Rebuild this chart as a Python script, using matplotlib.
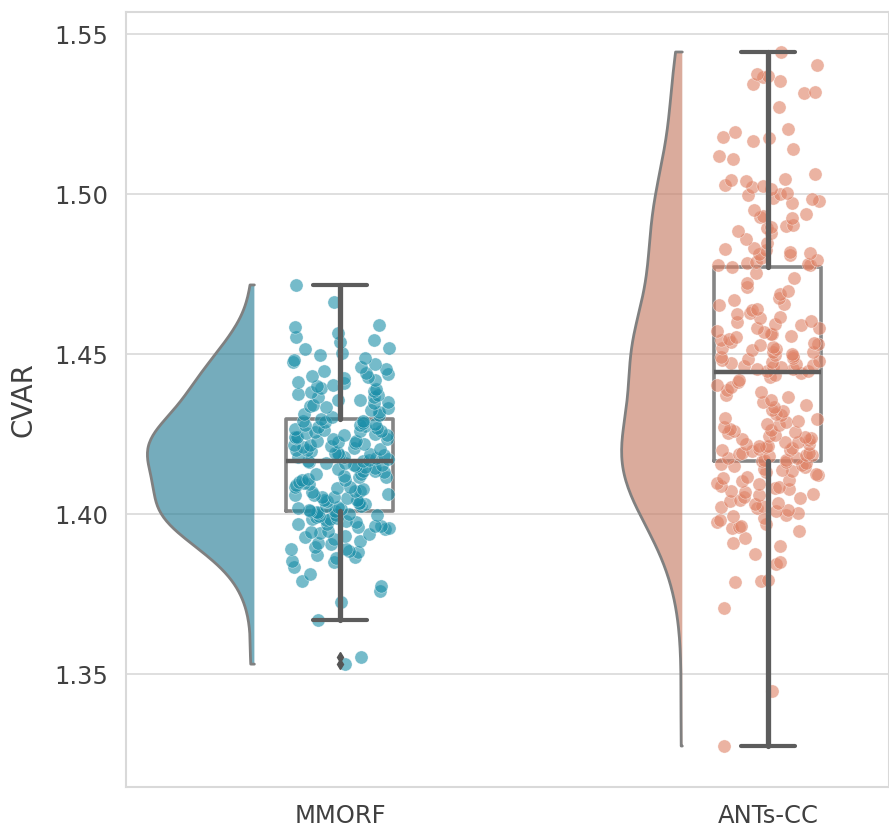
import numpy as np
import seaborn as sns
from matplotlib import pyplot as plt

# CVAR values, one list per method
groups = ['MMORF', 'ANTs-CC']

mmorf = [
    1.3531, 1.3553, 1.3669, 1.3725, 1.3759, 1.3775, 1.3791, 1.3814, 1.3836, 1.3849,
    1.3853, 1.3862, 1.3866, 1.3871, 1.3880, 1.3883, 1.3890, 1.3892, 1.3898, 1.3905,
    1.3910, 1.3917, 1.3921, 1.3928, 1.3930, 1.3937, 1.3940, 1.3945, 1.3947, 1.3953,
    1.3955, 1.3958, 1.3963, 1.3964, 1.3968, 1.3970, 1.3975, 1.3977, 1.3980, 1.3984,
    1.3985, 1.3989, 1.3992, 1.3993, 1.3997, 1.3998, 1.4001, 1.4004, 1.4005, 1.4008,
    1.4010, 1.4012, 1.4017, 1.4018, 1.4022, 1.4025, 1.4026, 1.4031, 1.4035, 1.4036,
    1.4040, 1.4043, 1.4044, 1.4049, 1.4052, 1.4054, 1.4059, 1.4061, 1.4063, 1.4068,
    1.4071, 1.4073, 1.4078, 1.4080, 1.4085, 1.4086, 1.4090, 1.4095, 1.4097, 1.4100,
    1.4105, 1.4106, 1.4110, 1.4115, 1.4117, 1.4120, 1.4125, 1.4126, 1.4130, 1.4135,
    1.4136, 1.4141, 1.4143, 1.4148, 1.4149, 1.4153, 1.4154, 1.4158, 1.4160, 1.4162,
    1.4165, 1.4166, 1.4170, 1.4172, 1.4175, 1.4178, 1.4179, 1.4183, 1.4185, 1.4188,
    1.4191, 1.4192, 1.4196, 1.4199, 1.4200, 1.4204, 1.4207, 1.4208, 1.4212, 1.4215,
    1.4216, 1.4220, 1.4222, 1.4225, 1.4228, 1.4229, 1.4233, 1.4235, 1.4238, 1.4241,
    1.4242, 1.4246, 1.4248, 1.4251, 1.4253, 1.4256, 1.4259, 1.4260, 1.4264, 1.4266,
    1.4269, 1.4271, 1.4274, 1.4277, 1.4278, 1.4282, 1.4284, 1.4287, 1.4290, 1.4292,
    1.4298, 1.4303, 1.4309, 1.4313, 1.4318, 1.4325, 1.4330, 1.4333, 1.4339, 1.4342,
    1.4348, 1.4351, 1.4356, 1.4358, 1.4365, 1.4367, 1.4373, 1.4376, 1.4382, 1.4385,
    1.4391, 1.4394, 1.4399, 1.4402, 1.4410, 1.4414, 1.4419, 1.4424, 1.4427, 1.4433,
    1.4437, 1.4440, 1.4447, 1.4452, 1.4459, 1.4468, 1.4475, 1.4482, 1.4487, 1.4498,
    1.4503, 1.4516, 1.4519, 1.4538, 1.4544, 1.4553, 1.4566, 1.4584, 1.4591, 1.4663,
    1.4716,
]

ants = [
    1.3275, 1.3447, 1.3706, 1.3787, 1.3790, 1.3794, 1.3844, 1.3850, 1.3875, 1.3900,
    1.3909, 1.3925, 1.3947, 1.3956, 1.3959, 1.3963, 1.3968, 1.3974, 1.3982, 1.3987,
    1.3994, 1.3997, 1.4004, 1.4010, 1.4012, 1.4019, 1.4023, 1.4026, 1.4032, 1.4035,
    1.4042, 1.4044, 1.4050, 1.4053, 1.4059, 1.4062, 1.4068, 1.4071, 1.4077, 1.4080,
    1.4086, 1.4088, 1.4095, 1.4097, 1.4104, 1.4106, 1.4113, 1.4115, 1.4122, 1.4124,
    1.4130, 1.4133, 1.4139, 1.4141, 1.4147, 1.4149, 1.4154, 1.4155, 1.4159, 1.4162,
    1.4165, 1.4169, 1.4170, 1.4175, 1.4176, 1.4180, 1.4183, 1.4184, 1.4188, 1.4191,
    1.4192, 1.4196, 1.4199, 1.4200, 1.4204, 1.4207, 1.4208, 1.4213, 1.4214, 1.4219,
    1.4220, 1.4225, 1.4226, 1.4232, 1.4233, 1.4238, 1.4240, 1.4245, 1.4247, 1.4253,
    1.4255, 1.4261, 1.4263, 1.4267, 1.4272, 1.4278, 1.4281, 1.4288, 1.4291, 1.4298,
    1.4301, 1.4309, 1.4313, 1.4321, 1.4326, 1.4335, 1.4340, 1.4349, 1.4355, 1.4365,
    1.4371, 1.4381, 1.4387, 1.4397, 1.4403, 1.4413, 1.4419, 1.4429, 1.4434, 1.4441,
    1.4447, 1.4448, 1.4453, 1.4454, 1.4459, 1.4460, 1.4464, 1.4467, 1.4470, 1.4473,
    1.4474, 1.4479, 1.4480, 1.4485, 1.4487, 1.4492, 1.4493, 1.4498, 1.4500, 1.4506,
    1.4507, 1.4513, 1.4515, 1.4520, 1.4522, 1.4528, 1.4530, 1.4535, 1.4537, 1.4543,
    1.4546, 1.4552, 1.4555, 1.4562, 1.4564, 1.4570, 1.4573, 1.4580, 1.4583, 1.4590,
    1.4593, 1.4600, 1.4604, 1.4612, 1.4616, 1.4624, 1.4628, 1.4637, 1.4642, 1.4652,
    1.4658, 1.4669, 1.4676, 1.4687, 1.4696, 1.4710, 1.4721, 1.4739, 1.4752, 1.4772,
    1.4777, 1.4779, 1.4781, 1.4784, 1.4788, 1.4794, 1.4800, 1.4809, 1.4812, 1.4816,
    1.4819, 1.4825, 1.4828, 1.4831, 1.4847, 1.4859, 1.4878, 1.4884, 1.4894, 1.4897,
    1.4900, 1.4903, 1.4925, 1.4928, 1.4931, 1.4938, 1.4950, 1.4972, 1.4978, 1.4984,
    1.4988, 1.4997, 1.5000, 1.5003, 1.5016, 1.5022, 1.5025, 1.5028, 1.5041, 1.5044,
    1.5047, 1.5063, 1.5109, 1.5119, 1.5141, 1.5166, 1.5175, 1.5178, 1.5194, 1.5203,
    1.5272, 1.5316, 1.5319, 1.5344, 1.5353, 1.5366, 1.5369, 1.5375, 1.5403, 1.5444,
]

y_ticks = [1.35, 1.40, 1.45, 1.50, 1.55]

point_colors = ['#1a8ea8', '#df8165']
violin_colors = ['#2c8098', '#c77e67']


def kde(values, grid):
    # gaussian kde with scott's rule, like seaborn's violins
    values = np.asarray(values)
    bw = values.std(ddof=1) * len(values) ** (-1 / 5)
    z = (grid[:, None] - values[None, :]) / bw
    return np.exp(-0.5 * z ** 2).sum(axis=1) / (len(values) * bw * np.sqrt(2 * np.pi))


sns.set_theme(style='whitegrid')
plt.rcParams['font.family'] = ['DejaVu Sans']

fig = plt.figure(figsize=(8.89, 8.30), dpi=100)
ax = fig.add_axes([126 / 889, 43 / 830, 763 / 889, 775 / 830])

data = [mmorf, ants]

# half violins, scaled by area so the widest one is 0.25 wide
grids = [np.linspace(min(d), max(d), 200) for d in data]
dens = [kde(d, g) for d, g in zip(data, grids)]
peak = max(d.max() for d in dens)
for i, (g, d) in enumerate(zip(grids, dens)):
    edge = i - 0.2
    ax.fill_betweenx(g, edge - d / peak * 0.25, edge, facecolor=violin_colors[i], alpha=0.65,
                     edgecolor='none', zorder=1)
    ax.plot(np.r_[edge, edge - d / peak * 0.25, edge], np.r_[g[0], g, g[-1]],
            color='#808080', lw=2, zorder=1.2)

# jittered points
np.random.seed(3)
for i, d in enumerate(data):
    sns.stripplot(x=np.full(len(d), i), y=d, native_scale=True, jitter=0.12, ax=ax,
                  color=point_colors[i], alpha=0.6, size=9.5, linewidth=0.4, edgecolor='white',
                  zorder=2)

# box outlines under the points, whiskers and medians above them
bp = ax.boxplot(data, positions=[0, 1], widths=0.25, whis=1.5, patch_artist=False,
                boxprops=dict(color='#858585', lw=2.6),
                whiskerprops=dict(color='#5c5c5c', lw=3.8),
                capprops=dict(color='#5c5c5c', lw=3),
                medianprops=dict(color='#5c5c5c', lw=3.2),
                flierprops=dict(marker='d', markerfacecolor='#555555', markeredgecolor='#555555',
                                markersize=5))
for b in bp['boxes']:
    b.set_zorder(1.5)
for key in ['whiskers', 'caps', 'medians', 'fliers']:
    for artist in bp[key]:
        artist.set_zorder(4)

ax.set_xlim(-0.5, 1.283)
ax.set_ylim(1.3147, 1.5569)
ax.set_xticks([0, 1])
ax.set_xticklabels(groups)
ax.set_yticks(y_ticks)
ax.set_yticklabels([f'{t:.2f}' for t in y_ticks])
ax.grid(axis='x', visible=False)
ax.grid(axis='y', color='#d9d9d9', lw=1.2)
ax.set_axisbelow(True)
for side in ['left', 'bottom', 'top', 'right']:
    ax.spines[side].set_color('#d9d9d9')
    ax.spines[side].set_linewidth(1.5)
ax.tick_params(axis='y', labelsize=17.5, labelcolor='#404040', length=0, pad=13)
ax.tick_params(axis='x', labelsize=17.5, labelcolor='#404040', length=0, pad=12)
ax.set_xlabel('')
ax.set_ylabel('CVAR', fontsize=20, color='#404040', labelpad=12)

fig.savefig('out.png', dpi=100)
